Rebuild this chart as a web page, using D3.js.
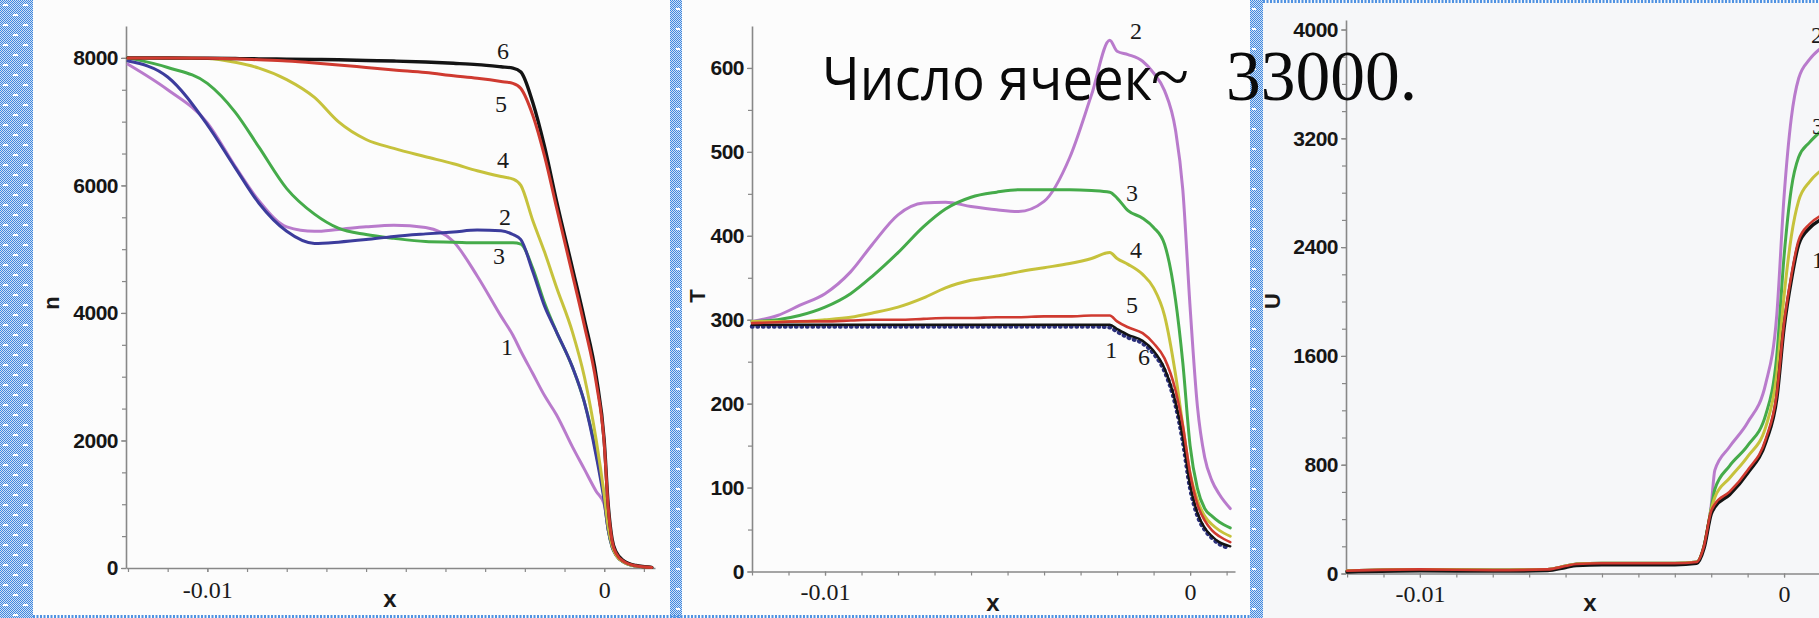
<!DOCTYPE html>
<html><head><meta charset="utf-8">
<script src="https://cdn.jsdelivr.net/npm/d3@7"></script>
<style>html,body{margin:0;padding:0;background:#fbfbfb;overflow:hidden}</style>
</head><body>
<svg id="c" width="1819" height="618"></svg>
<script>
// ---------- Panel 1: n(x) ----------
const nX = [-0.0120, -0.0110, -0.0100, -0.0093, -0.0087, -0.0080, -0.0073, -0.0067, -0.0060, -0.0053, -0.0045, -0.0038, -0.0032, -0.0026, -0.0023, -0.0021, -0.0018, -0.0015, -0.0012, -0.0008, -0.0005, -0.0002, 0.0000, 0.0001, 0.0002, 0.0003, 0.0005, 0.0008, 0.0012];
const nBlack  = [8000, 7998, 7995, 7990, 7985, 7980, 7975, 7970, 7960, 7950, 7935, 7915, 7895, 7860, 7840, 7780, 7300, 6600, 5750, 4700, 3900, 3000, 2000, 1000, 450, 250, 110, 40, 10];
const nRed    = [8000, 8000, 7995, 7985, 7970, 7950, 7920, 7890, 7850, 7810, 7770, 7720, 7680, 7630, 7600, 7520, 7100, 6450, 5650, 4600, 3800, 2900, 1950, 950, 420, 230, 100, 35, 8];
const nYellow = [8000, 7998, 7990, 7930, 7840, 7660, 7380, 7000, 6720, 6580, 6450, 6340, 6230, 6140, 6100, 6000, 5450, 4950, 4400, 3700, 3000, 2000, 1150, 650, 350, 200, 90, 30, 8];
const nGreen  = [8000, 7850, 7600, 7150, 6600, 5950, 5550, 5330, 5230, 5170, 5120, 5110, 5100, 5100, 5100, 5080, 4700, 4150, 3700, 3150, 2600, 1800, 1100, 600, 330, 200, 90, 30, 8];
const nBlue   = [7950, 7700, 6950, 6280, 5720, 5280, 5090, 5110, 5150, 5200, 5240, 5270, 5300, 5290, 5230, 5150, 4650, 4100, 3700, 3150, 2600, 1750, 1050, 600, 330, 200, 90, 30, 8];
const nPurple = [7900, 7500, 6980, 6300, 5760, 5350, 5280, 5310, 5350, 5375, 5340, 5120, 4580, 3950, 3650, 3400, 3050, 2700, 2400, 1900, 1550, 1200, 1000, 600, 350, 200, 90, 30, 8];
const nTicks = [0, 2000, 4000, 6000, 8000];
const nLabels = [["6", -0.00255, 8110], ["5", -0.0026, 7280], ["4", -0.00255, 6400], ["2", -0.0025, 5505], ["3", -0.00265, 4895], ["1", -0.00245, 3465]];

// ---------- Panel 2: T(x) ----------
const tX = [-0.0120, -0.0113, -0.0107, -0.0100, -0.0093, -0.0087, -0.0080, -0.0073, -0.0067, -0.0060, -0.0053, -0.0047, -0.0040, -0.0033, -0.0027, -0.0022, -0.0020, -0.0017, -0.0013, -0.0010, -0.0007, -0.0004, -0.0002, 0.0000, 0.0002, 0.0004, 0.0006, 0.0008, 0.0011];
const tPurple = [298, 305, 317, 331, 357, 390, 425, 439, 440, 435, 431, 429, 441, 493, 568, 633, 620, 616, 608, 594, 573, 526, 455, 315, 197, 136, 108, 92, 75];
const tGreen  = [298, 300, 305, 315, 331, 352, 380, 411, 432, 446, 452, 455, 455, 455, 454, 452, 445, 430, 421, 410, 390, 324, 249, 150, 99, 75, 66, 59, 52];
const tYellow = [298, 298, 298, 300, 303, 308, 315, 326, 338, 347, 352, 357, 362, 367, 373, 380, 373, 366, 354, 338, 305, 235, 174, 117, 85, 66, 56, 49, 42];
const tRed    = [296, 297, 298, 298, 299, 300, 300, 301, 302, 302, 303, 303, 304, 304, 305, 305, 298, 291, 284, 272, 254, 216, 174, 117, 80, 61, 49, 42, 35];
const tBlack  = [294, 294, 294, 294, 294, 294, 294, 294, 294, 294, 294, 294, 294, 294, 294, 294, 289, 282, 275, 263, 242, 202, 160, 103, 70, 52, 42, 35, 30];
const tNavy   = [292, 292, 292, 292, 292, 292, 292, 292, 292, 292, 292, 292, 292, 292, 292, 291, 286, 279, 272, 260, 239, 199, 156, 100, 67, 50, 40, 33, 28];
const tTicks = [0, 100, 200, 300, 400, 500, 600];
const tLabels = [["2", -0.00148, 645], ["3", -0.00159, 451], ["4", -0.00148, 383], ["5", -0.00159, 318], ["1", -0.00216, 265], ["6", -0.00126, 256]];

// ---------- Panel 3: U(x) ----------
const uX = [-0.0120, -0.0100, -0.0080, -0.0065, -0.0060, -0.0057, -0.0050, -0.0040, -0.0030, -0.0024, -0.0022, -0.0020, -0.0019, -0.0015, -0.0010, -0.0005, -0.0002, 0.0000, 0.0002, 0.0004, 0.0007, 0.0010];
const uPurple = [20, 30, 25, 30, 55, 70, 75, 75, 75, 85, 200, 500, 760, 930, 1110, 1400, 1900, 2770, 3350, 3640, 3780, 3860];
const uGreen  = [20, 30, 25, 30, 55, 70, 75, 75, 75, 85, 200, 480, 620, 790, 940, 1170, 1600, 2330, 2830, 3060, 3170, 3250];
const uYellow = [20, 30, 25, 30, 55, 70, 75, 75, 75, 85, 200, 470, 560, 700, 860, 1080, 1460, 2040, 2480, 2740, 2880, 2960];
const uRed    = [20, 30, 25, 30, 55, 70, 75, 75, 75, 85, 200, 460, 510, 600, 760, 990, 1320, 1840, 2190, 2450, 2570, 2630];
const uBlack  = [12, 20, 18, 22, 45, 60, 65, 65, 65, 75, 185, 440, 490, 580, 740, 970, 1290, 1810, 2160, 2420, 2540, 2600];
const uTicks = [0, 800, 1600, 2400, 3200, 4000];
const uLabels = [["2", 0.00074, 3960], ["3", 0.00077, 3290], ["1", 0.00077, 2305]];

const xTicks = [-0.01, 0];
const xTickLabels = ["-0.01", "0"];
const titleSans = "Число ячеек";
const titleTilde = "~";
const titleNum = "33000.";

// ---------- drawing ----------
const C = {purple:"#b97bcc", green:"#45ab4a", yellow:"#c6c23c", red:"#cf3a30", blue:"#3c3c9c", black:"#141414", navy:"#2b2f7a"};
const svg = d3.select("#c");
const defs = svg.append("defs");
const chk = defs.append("pattern").attr("id","chk").attr("width",2).attr("height",2).attr("patternUnits","userSpaceOnUse");
chk.append("rect").attr("width",2).attr("height",2).attr("fill","#cfe0f6");
chk.append("rect").attr("width",1).attr("height",1).attr("fill","#3f88df");
chk.append("rect").attr("x",1).attr("y",1).attr("width",1).attr("height",1).attr("fill","#3f88df");
const dash = defs.append("pattern").attr("id","dsh").attr("width",20).attr("height",20).attr("patternUnits","userSpaceOnUse");
dash.append("rect").attr("x",3).attr("y",4).attr("width",5).attr("height",2).attr("fill","#fff");
dash.append("rect").attr("x",13).attr("y",14).attr("width",5).attr("height",2).attr("fill","#fff");
const dash2 = defs.append("pattern").attr("id","dsh2").attr("width",12).attr("height",20).attr("patternUnits","userSpaceOnUse");
dash2.append("rect").attr("x",4).attr("y",8).attr("width",4).attr("height",2).attr("fill","#fff");

svg.append("rect").attr("width",1819).attr("height",618).attr("fill","#fcfcfc");
svg.append("rect").attr("x",1263).attr("y",0).attr("width",556).attr("height",618).attr("fill","#f6f7f9");

function strip(x, w, pat){
  svg.append("rect").attr("x",x).attr("y",0).attr("width",w).attr("height",618).attr("fill","url(#chk)");
  svg.append("rect").attr("x",x).attr("y",0).attr("width",w).attr("height",618).attr("fill","url(#"+pat+")");
}
strip(0, 33, "dsh");
strip(670, 12, "dsh2");
strip(1250, 13, "dsh2");
svg.append("line").attr("x1",33).attr("x2",1250).attr("y1",616.5).attr("y2",616.5)
  .attr("stroke","#4f92e2").attr("stroke-width",3).attr("stroke-dasharray","2,1.5");
svg.append("line").attr("x1",1263).attr("x2",1819).attr("y1",1.5).attr("y2",1.5)
  .attr("stroke","#4f92e2").attr("stroke-width",3).attr("stroke-dasharray","2,1.5");

function panel(p){
  const x = d3.scaleLinear().domain(p.xd).range(p.xr);
  const y = d3.scaleLinear().domain(p.yd).range(p.yr);
  const g = svg.append("g");
  const axCol = "#888";
  const ym = g.append("g").attr("transform",`translate(${p.xr[0]},0)`)
    .call(d3.axisLeft(y).tickValues(d3.range(0, p.yd[1], p.yMinor)).tickSize(4).tickFormat(""));
  ym.select(".domain").remove();
  ym.selectAll("line").attr("stroke",axCol).attr("stroke-width",1.2);
  const ya = g.append("g").attr("transform",`translate(${p.xr[0]},0)`)
    .call(d3.axisLeft(y).tickValues(p.yTicks).tickSize(5).tickSizeOuter(0).tickPadding(3).tickFormat(d3.format("d")));
  ya.select(".domain").attr("stroke",axCol).attr("stroke-width",1.6);
  ya.selectAll("line").attr("stroke",axCol).attr("stroke-width",1.2);
  ya.selectAll("text").attr("font-family","'Liberation Sans', Arial, sans-serif").attr("font-weight","bold")
    .attr("font-size",21).attr("fill","#161616").attr("letter-spacing","-0.5");
  const xm = g.append("g").attr("transform",`translate(0,${p.yr[0]})`)
    .call(d3.axisBottom(x).tickValues(d3.range(-0.012, p.xd[1], 0.001).map(v=>Math.round(v*10000)/10000)).tickSize(4).tickFormat(""));
  xm.select(".domain").remove();
  xm.selectAll("line").attr("stroke",axCol).attr("stroke-width",1.2);
  const xa = g.append("g").attr("transform",`translate(0,${p.yr[0]})`)
    .call(d3.axisBottom(x).tickValues(xTicks).tickSize(4).tickSizeOuter(0).tickPadding(p.xPad).tickFormat((d,i)=>xTickLabels[i]));
  xa.select(".domain").attr("stroke",axCol).attr("stroke-width",1.6);
  xa.selectAll("line").attr("stroke",axCol).attr("stroke-width",1.2);
  xa.selectAll("text").attr("font-family","'Liberation Serif', 'Times New Roman', serif")
    .attr("font-size",24).attr("fill","#1a1a1a");
  const cg = g.append("g").attr("fill","none").attr("stroke-linejoin","round").attr("stroke-linecap","round");
  p.series.forEach(s=>{
    const line = d3.line().x((d,i)=>x(p.xs[i])).y(d=>y(d)).curve(d3.curveMonotoneX);
    const path = cg.append("path").datum(s.v).attr("d",line).attr("stroke",s.c).attr("stroke-width",s.w);
    if (s.dash) path.attr("stroke-dasharray",s.dash);
  });
  p.labels.forEach(l=>{
    g.append("text").attr("x",x(l[1])).attr("y",y(l[2])).attr("dy","0.35em")
      .attr("text-anchor",p.labelAnchor).attr("font-family","'Liberation Serif', 'Times New Roman', serif")
      .attr("font-size",24).attr("fill","#1a1a1a").text(l[0]);
  });
  g.append("text").attr("transform",`translate(${p.yName[1]},${p.yName[2]}) rotate(-90)`)
    .attr("text-anchor","middle").attr("dy","0.35em").attr("font-family","'Liberation Sans', Arial, sans-serif")
    .attr("font-weight","bold").attr("font-size",22).attr("fill","#1a1a1a").text(p.yName[0]);
  g.append("text").attr("x",p.xName[0]).attr("y",p.xName[1]).attr("dy","0.35em").attr("text-anchor","middle")
    .attr("font-family","'Liberation Sans', Arial, sans-serif").attr("font-weight","bold")
    .attr("font-size",24).attr("fill","#1a1a1a").text("x");
}

panel({xd:[-0.01205, 0.00128], xr:[126, 655], yd:[0, 8500], yr:[568, 26], yMinor:500, yTicks:nTicks, xPad:9,
  xs:nX, labelAnchor:"middle", yName:["n", 51, 303], xName:[390, 599],
  series:[
    {v:nPurple, c:C.purple, w:3},
    {v:nGreen, c:C.green, w:3},
    {v:nBlue, c:C.blue, w:3},
    {v:nYellow, c:C.yellow, w:3},
    {v:nBlack, c:C.black, w:3.4},
    {v:nRed, c:C.red, w:3}
  ], labels:nLabels});

panel({xd:[-0.0120, 0.00123], xr:[752, 1235], yd:[0, 650], yr:[571.5, 26], yMinor:50, yTicks:tTicks, xPad:7,
  xs:tX, labelAnchor:"middle", yName:["T", 697, 296], xName:[993, 603],
  series:[
    {v:tPurple, c:C.purple, w:3},
    {v:tGreen, c:C.green, w:3},
    {v:tYellow, c:C.yellow, w:3},
    {v:tNavy, c:C.navy, w:4.5, dash:"0.5,5"},
    {v:tBlack, c:C.black, w:2.4},
    {v:tRed, c:C.red, w:2.6}
  ], labels:tLabels});

panel({xd:[-0.01203, 0.00096], xr:[1346, 1819], yd:[0, 4070], yr:[573.5, 20], yMinor:200, yTicks:uTicks, xPad:7,
  xs:uX, labelAnchor:"start", yName:["U", 1272, 301], xName:[1590, 603],
  series:[
    {v:uPurple, c:C.purple, w:3},
    {v:uGreen, c:C.green, w:3},
    {v:uYellow, c:C.yellow, w:3},
    {v:uBlack, c:C.black, w:3.6},
    {v:uRed, c:C.red, w:2.6}
  ], labels:uLabels});

// title
const t = svg.append("g");
t.append("text").attr("x",822).attr("y",100).attr("font-family","'Open Sans', 'Noto Sans', sans-serif")
  .attr("font-size",60).attr("fill","#0a0a0a").attr("textLength",330).attr("lengthAdjust","spacingAndGlyphs").text(titleSans);
t.append("text").attr("x",1170).attr("y",100).attr("text-anchor","middle").attr("font-family","'Liberation Serif', 'Times New Roman', serif")
  .attr("font-size",70).attr("fill","#0a0a0a").text(titleTilde);
t.append("text").attr("x",1226).attr("y",100).attr("font-family","'Liberation Serif', 'Times New Roman', serif")
  .attr("font-size",72).attr("fill","#0a0a0a").attr("textLength",191).attr("lengthAdjust","spacingAndGlyphs").text(titleNum);
</script>
</body></html>
